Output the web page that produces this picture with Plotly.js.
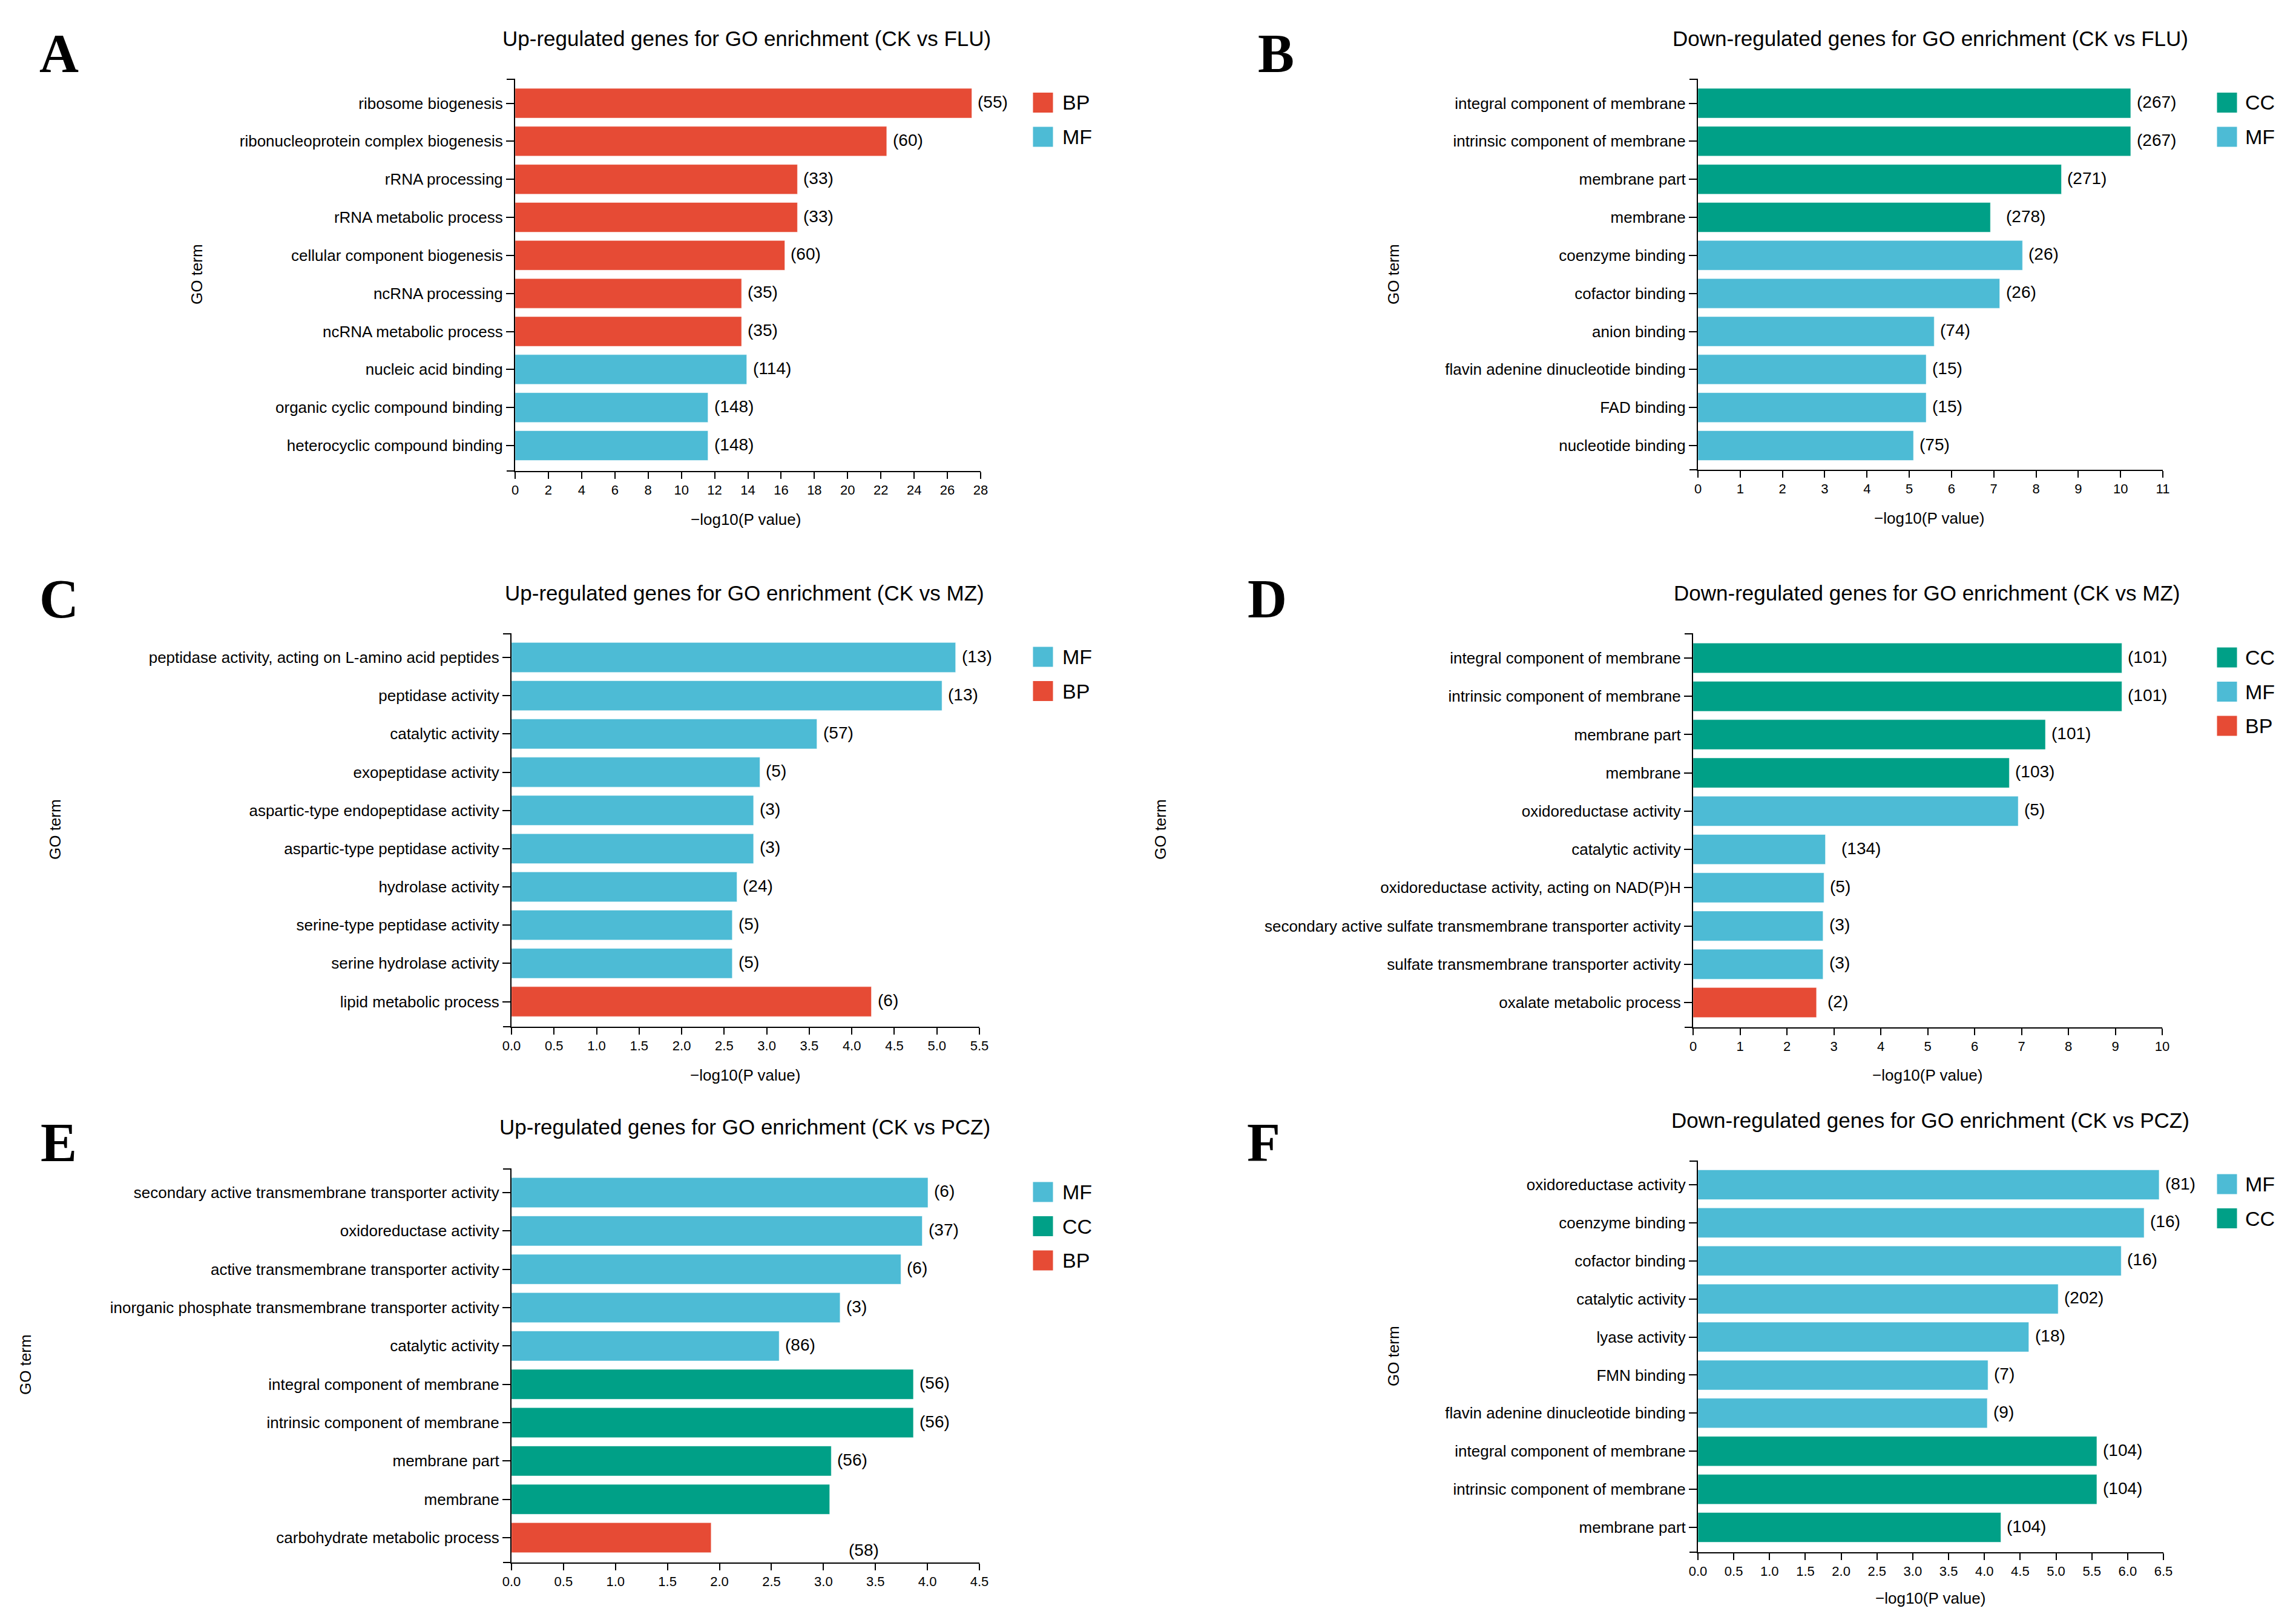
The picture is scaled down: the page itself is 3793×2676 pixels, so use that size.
<!DOCTYPE html>
<html>
<head>
<meta charset="utf-8">
<script src="https://cdn.plot.ly/plotly-3.0.1.min.js"></script>
<style>html,body{margin:0;padding:0;background:#fff;}#chart{width:3793px;height:2676px;}</style>
</head>
<body>
<div id="chart"></div>
<script>
// ---------------- DATA ----------------
const termsA = ["ribosome biogenesis","ribonucleoprotein complex biogenesis","rRNA processing","rRNA metabolic process","cellular component biogenesis","ncRNA processing","ncRNA metabolic process","nucleic acid binding","organic cyclic compound binding","heterocyclic compound binding"];
const valuesA = [27.47, 22.35, 16.98, 16.98, 16.22, 13.62, 13.62, 13.93, 11.6, 11.6];
const countsA = [55, 60, 33, 33, 60, 35, 35, 114, 148, 148];
const typesA = ["BP","BP","BP","BP","BP","BP","BP","MF","MF","MF"];

const termsB = ["integral component of membrane","intrinsic component of membrane","membrane part","membrane","coenzyme binding","cofactor binding","anion binding","flavin adenine dinucleotide binding","FAD binding","nucleotide binding"];
const valuesB = [10.24, 10.24, 8.6, 6.92, 7.68, 7.14, 5.59, 5.40, 5.40, 5.10];
const countsB = [267, 267, 271, 278, 26, 26, 74, 15, 15, 75];
const typesB = ["CC","CC","CC","CC","MF","MF","MF","MF","MF","MF"];

const termsC = ["peptidase activity, acting on L-amino acid peptides","peptidase activity","catalytic activity","exopeptidase activity","aspartic-type endopeptidase activity","aspartic-type peptidase activity","hydrolase activity","serine-type peptidase activity","serine hydrolase activity","lipid metabolic process"];
const valuesC = [5.22, 5.06, 3.59, 2.92, 2.845, 2.845, 2.65, 2.595, 2.595, 4.23];
const countsC = [13, 13, 57, 5, 3, 3, 24, 5, 5, 6];
const typesC = ["MF","MF","MF","MF","MF","MF","MF","MF","MF","BP"];

const termsD = ["integral component of membrane","intrinsic component of membrane","membrane part","membrane","oxidoreductase activity","catalytic activity","oxidoreductase activity, acting on NAD(P)H","secondary active sulfate transmembrane transporter activity","sulfate transmembrane transporter activity","oxalate metabolic process"];
const valuesD = [9.14, 9.14, 7.51, 6.74, 6.93, 2.82, 2.79, 2.77, 2.77, 2.63];
const countsD = [101, 101, 101, 103, 5, 134, 5, 3, 3, 2];
const typesD = ["CC","CC","CC","CC","MF","MF","MF","MF","MF","BP"];

const termsE = ["secondary active transmembrane transporter activity","oxidoreductase activity","active transmembrane transporter activity","inorganic phosphate transmembrane transporter activity","catalytic activity","integral component of membrane","intrinsic component of membrane","membrane part","membrane","carbohydrate metabolic process"];
const valuesE = [4.005, 3.95, 3.745, 3.16, 2.574, 3.865, 3.865, 3.075, 3.06, 1.92];
const countsE = [6, 37, 6, 3, 86, 56, 56, 56, null, 58];
const typesE = ["MF","MF","MF","MF","MF","CC","CC","CC","CC","BP"];

const termsF = ["oxidoreductase activity","coenzyme binding","cofactor binding","catalytic activity","lyase activity","FMN binding","flavin adenine dinucleotide binding","integral component of membrane","intrinsic component of membrane","membrane part"];
const valuesF = [6.44, 6.23, 5.91, 5.03, 4.62, 4.05, 4.04, 5.57, 5.57, 4.23];
const countsF = [81, 16, 16, 202, 18, 7, 9, 104, 104, 104];
const typesF = ["MF","MF","MF","MF","MF","MF","MF","CC","CC","CC"];

const panelLetters = ["A","B","C","D","E","F"];
const panelTitles = [
  "Up-regulated genes for GO enrichment (CK vs FLU)",
  "Down-regulated genes for GO enrichment (CK vs FLU)",
  "Up-regulated genes for GO enrichment (CK vs MZ)",
  "Down-regulated genes for GO enrichment (CK vs MZ)",
  "Up-regulated genes for GO enrichment (CK vs PCZ)",
  "Down-regulated genes for GO enrichment (CK vs PCZ)"
];
const axisMax = [28, 11, 5.5, 10, 4.5, 6.5];
const axisStep = [2, 1, 0.5, 1, 0.5, 0.5];
const yTitle = "GO term";
const xTitle = "\u2212log10(P value)";

// ---------------- STYLE / LAYOUT ----------------
const W = 3793, H = 2676;
const colors = {BP: "#E64B35", MF: "#4DBBD5", CC: "#00A087"};
const FONT = "Arial, 'Liberation Sans', Helvetica, sans-serif";
const SERIF = "'Times New Roman', 'Liberation Serif', serif";

// pixel geometry: x of 0, x of max, axis top, axis bottom, first/last bar centre
const geom = [
  {xL: 851,  xR: 1620, top: 131,  bot: 778,  c0: 170.5, c9: 736,
   title: [1233, 63],  letter: [97, 89],    yt: [325, 453],  xt: [1232, 858],  leg: [1723, 1753]},
  {xL: 2805, xR: 3573, top: 131,  bot: 776,  c0: 170.5, c9: 736,
   title: [3189, 63],  letter: [2108, 89],  yt: [2302, 453], xt: [3187, 856],  leg: [3679, 3707]},
  {xL: 845,  xR: 1618, top: 1047, bot: 1696, c0: 1086,  c9: 1654.5,
   title: [1230, 979], letter: [97, 989],   yt: [91, 1370],  xt: [1231, 1776], leg: [1723, 1753]},
  {xL: 2797, xR: 3572, top: 1047, bot: 1697, c0: 1087,  c9: 1656,
   title: [3183, 979], letter: [2093, 989], yt: [1917, 1370], xt: [3184, 1776], leg: [3679, 3707]},
  {xL: 845,  xR: 1618, top: 1931, bot: 2581, c0: 1970,  c9: 2540,
   title: [1230, 1861], letter: [97, 1887], yt: [42, 2254],  xt: null,         leg: [1723, 1753]},
  {xL: 2805, xR: 3574, top: 1918, bot: 2564, c0: 1957,  c9: 2523,
   title: [3189, 1850], letter: [2087, 1887], yt: [2302, 2240], xt: [3189, 2640], leg: [3679, 3707]}
];
// label offsets (px) for count labels that sit away from their bar end
const labelShift = {"1-3": [24, 0], "3-5": [24, 0], "3-9": [16, 0], "4-9": [225, -22]};

const panels = [
  [termsA, valuesA, countsA, typesA],
  [termsB, valuesB, countsB, typesB],
  [termsC, valuesC, countsC, typesC],
  [termsD, valuesD, countsD, typesD],
  [termsE, valuesE, countsE, typesE],
  [termsF, valuesF, countsF, typesF]
];

const px = x => x / W;
const py = y => 1 - y / H;

const traces = [];
const layout = {
  width: W, height: H,
  margin: {l: 0, r: 0, t: 0, b: 0},
  paper_bgcolor: "#fff", plot_bgcolor: "#fff",
  showlegend: false,
  bargap: 0.22,
  font: {family: FONT, color: "#000"},
  annotations: [], shapes: []
};

panels.forEach((p, i) => {
  const [terms, vals, counts, types] = p;
  const g = geom[i];
  const n = i + 1;
  const xa = "x" + (n === 1 ? "" : n), ya = "y" + (n === 1 ? "" : n);
  const xk = "xaxis" + (n === 1 ? "" : n), yk = "yaxis" + (n === 1 ? "" : n);
  const nCat = terms.length;
  const s = (g.c9 - g.c0) / (nCat - 1);
  const rt = -(g.c0 - g.top) / s;
  const rb = (nCat - 1) + (g.bot - g.c9) / s;

  traces.push({
    type: "bar", orientation: "h",
    x: vals, y: terms,
    xaxis: xa, yaxis: ya,
    marker: {color: types.map(t => colors[t]), line: {width: 1, color: "rgba(255,255,255,0.5)"}},
    hoverinfo: "x+y", showlegend: false
  });

  layout[xk] = {
    domain: [px(g.xL), px(g.xR)], anchor: ya,
    range: [0, axisMax[i]], tick0: 0, dtick: axisStep[i],
    tickformat: axisStep[i] < 1 ? ".1f" : "d",
    showline: true, linecolor: "#000", linewidth: 2,
    ticks: "outside", ticklen: 11, tickwidth: 2, tickcolor: "#000",
    tickfont: {size: 22, family: FONT, color: "#000"},
    showgrid: false, zeroline: false, fixedrange: true
  };
  layout[yk] = {
    domain: [py(g.bot), py(g.top)], anchor: xa,
    type: "category", categoryorder: "array", categoryarray: terms,
    range: [rb, rt],
    showline: true, linecolor: "#000", linewidth: 2,
    ticks: "outside", ticklen: 13, tickwidth: 2, tickcolor: "#000",
    tickfont: {size: 26, family: FONT, color: "#000"},
    showgrid: false, zeroline: false, fixedrange: true
  };

  // axis end caps
  layout.shapes.push({type: "line", xref: "paper", yref: "paper",
    x0: px(g.xL - 14), x1: px(g.xL), y0: py(g.top), y1: py(g.top), line: {color: "#000", width: 2}});
  layout.shapes.push({type: "line", xref: "paper", yref: "paper",
    x0: px(g.xL - 14), x1: px(g.xL), y0: py(g.bot), y1: py(g.bot), line: {color: "#000", width: 2}});

  // count labels
  terms.forEach((t, j) => {
    if (counts[j] === null) return;
    const sh = labelShift[i + "-" + j] || [8, 0];
    layout.annotations.push({
      xref: xa, yref: ya, x: vals[j], y: t,
      text: "(" + counts[j] + ")", showarrow: false,
      xanchor: "left", yanchor: "middle", xshift: sh[0], yshift: sh[1] + 2,
      font: {size: 28, family: FONT, color: "#000"}
    });
  });

  // panel title
  layout.annotations.push({xref: "paper", yref: "paper", x: px(g.title[0]), y: py(g.title[1]),
    text: panelTitles[i], showarrow: false, xanchor: "center", yanchor: "middle",
    font: {size: 35, family: FONT, color: "#000"}});
  // panel letter
  layout.annotations.push({xref: "paper", yref: "paper", x: px(g.letter[0]), y: py(g.letter[1]),
    text: "<b>" + panelLetters[i] + "</b>", showarrow: false, xanchor: "center", yanchor: "middle",
    font: {size: 90, family: SERIF, color: "#000"}});
  // y title
  layout.annotations.push({xref: "paper", yref: "paper", x: px(g.yt[0]), y: py(g.yt[1]),
    text: yTitle, showarrow: false, textangle: -90, xanchor: "center", yanchor: "middle",
    font: {size: 26, family: FONT, color: "#000"}});
  // x title
  if (g.xt) {
    layout.annotations.push({xref: "paper", yref: "paper", x: px(g.xt[0]), y: py(g.xt[1]),
      text: xTitle, showarrow: false, xanchor: "center", yanchor: "middle",
      font: {size: 26, family: FONT, color: "#000"}});
  }

  // legend (drawn manually, order of first appearance)
  const cats = [];
  types.forEach(t => { if (!cats.includes(t)) cats.push(t); });
  cats.forEach((c, k) => {
    const cy = g.c0 - 1 + k * 56.5;
    const half = 16.5;
    layout.shapes.push({type: "rect", xref: "paper", yref: "paper",
      x0: px(g.leg[0] - half), x1: px(g.leg[0] + half), y0: py(cy + half), y1: py(cy - half),
      fillcolor: colors[c], line: {width: 0}});
    layout.annotations.push({xref: "paper", yref: "paper", x: px(g.leg[1]), y: py(cy),
      text: c, showarrow: false, xanchor: "left", yanchor: "middle",
      font: {size: 34, family: FONT, color: "#000"}});
  });
});

Plotly.newPlot("chart", traces, layout, {displayModeBar: false, staticPlot: true});
</script>
</body>
</html>
